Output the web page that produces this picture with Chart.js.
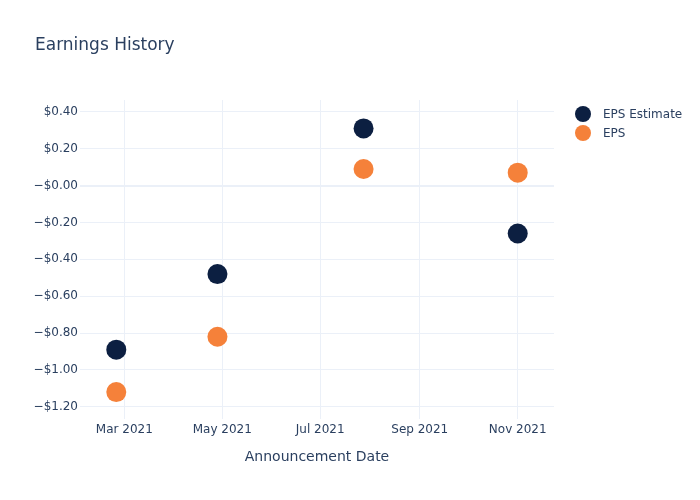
<!DOCTYPE html>
<html>
<head>
<meta charset="utf-8">
<script src="https://cdn.jsdelivr.net/npm/chart.js@4.4.1/dist/chart.umd.min.js"></script>
<style>
  html, body { margin: 0; padding: 0; background: #ffffff; }
  #wrap { width: 700px; height: 500px; }
</style>
</head>
<body>
<div id="wrap"><canvas id="c" width="700" height="500"></canvas></div>
<script>
// ---- data ----
const announcementDates = ['2021-02-24', '2021-04-28', '2021-07-28', '2021-11-01'];
const epsEstimate = [-0.89, -0.48, 0.31, -0.26];
const epsActual = [-1.12, -0.82, 0.09, 0.07];
const seriesNames = ['EPS Estimate', 'EPS'];
const xTickDates = ['2021-03-01', '2021-05-01', '2021-07-01', '2021-09-01', '2021-11-01'];
const xTickLabels = ['Mar 2021', 'May 2021', 'Jul 2021', 'Sep 2021', 'Nov 2021'];
const yTickValues = [-1.2, -1.0, -0.8, -0.6, -0.4, -0.2, 0, 0.2, 0.4];
const yTickLabels = ['\u2212$1.20', '\u2212$1.00', '\u2212$0.80', '\u2212$0.60', '\u2212$0.40', '\u2212$0.20', '\u2212$0.00', '$0.20', '$0.40'];
const chartTitle = 'Earnings History';
const xAxisTitle = 'Announcement Date';

// ---- helpers ----
const DAY = 86400000;
const ts = s => Date.parse(s + 'T00:00:00Z');
const xMin = ts('2021-02-01') + 0.4 * DAY;
const xMax = ts('2021-11-23') + 0.6 * DAY;
const yMin = -1.266, yMax = 0.464;

const FONT = "'DejaVu Sans', Verdana, sans-serif";
const TEXT = '#2a3f5f';
const GRID = '#ebf0f8';
const colors = ['#0c1f41', '#f5813a'];

const toPoints = vals => vals.map((v, i) => ({ x: ts(announcementDates[i]), y: v }));

const titleLegendPlugin = {
  id: 'titleLegend',
  afterDraw(chart) {
    const ctx = chart.ctx;
    ctx.save();
    ctx.fillStyle = TEXT;
    ctx.font = '17px ' + FONT;
    ctx.textAlign = 'left';
    ctx.textBaseline = 'middle';
    ctx.fillText(chartTitle, 35, 46);
    ctx.font = '12px ' + FONT;
    chart.data.datasets.forEach((ds, i) => {
      const cy = 114 + i * 19;
      ctx.beginPath();
      ctx.arc(583, cy, 8, 0, Math.PI * 2);
      ctx.fillStyle = ds.backgroundColor;
      ctx.fill();
      ctx.fillStyle = TEXT;
      ctx.fillText(ds.label, 603, cy + 1);
    });
    ctx.restore();
  }
};

new Chart(document.getElementById('c'), {
  type: 'scatter',
  data: {
    datasets: [
      { label: seriesNames[0], data: toPoints(epsEstimate), backgroundColor: colors[0], borderColor: colors[0], pointRadius: 10, pointHoverRadius: 10, pointBorderWidth: 0, pointHoverBorderWidth: 0 },
      { label: seriesNames[1], data: toPoints(epsActual), backgroundColor: colors[1], borderColor: colors[1], pointRadius: 10, pointHoverRadius: 10, pointBorderWidth: 0, pointHoverBorderWidth: 0 }
    ]
  },
  options: {
    responsive: false,
    animation: false,
    layout: { padding: { top: 100, right: 146, left: 0, bottom: 0 } },
    plugins: {
      legend: { display: false },
      title: { display: false },
      tooltip: { enabled: false }
    },
    scales: {
      x: {
        type: 'linear',
        min: xMin,
        max: xMax,
        afterFit(scale) { scale.height = 81; },
        afterBuildTicks(scale) { scale.ticks = xTickDates.map(d => ({ value: ts(d) })); },
        ticks: {
          color: TEXT,
          font: { family: FONT, size: 12 },
          padding: 4,
          maxRotation: 0,
          autoSkip: false,
          callback(value) {
            const i = xTickDates.findIndex(d => ts(d) === value);
            return i >= 0 ? xTickLabels[i] : '';
          }
        },
        grid: { color: GRID, lineWidth: 1, drawTicks: false },
        border: { display: false },
        title: {
          display: true,
          text: xAxisTitle,
          color: TEXT,
          font: { family: FONT, size: 14 },
          padding: { top: 0, bottom: 34 }
        }
      },
      y: {
        type: 'linear',
        min: yMin,
        max: yMax,
        afterFit(scale) { scale.width = 80; },
        afterBuildTicks(scale) { scale.ticks = yTickValues.map(v => ({ value: v })); },
        ticks: {
          color: TEXT,
          font: { family: FONT, size: 12 },
          padding: 2,
          callback(value) {
            const i = yTickValues.findIndex(v => Math.abs(v - value) < 1e-9);
            return i >= 0 ? yTickLabels[i] : '';
          }
        },
        grid: {
          color: GRID,
          lineWidth: ctx => (ctx.tick && Math.abs(ctx.tick.value) < 1e-9 ? 2 : 1),
          drawTicks: false
        },
        border: { display: false }
      }
    }
  },
  plugins: [titleLegendPlugin]
});
</script>
</body>
</html>
